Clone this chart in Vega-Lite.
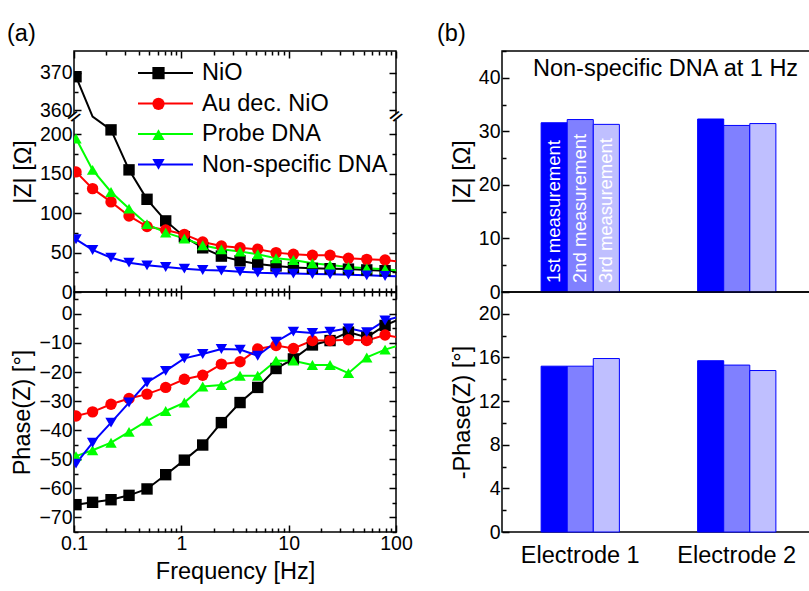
{
  "$schema": "https://vega.github.io/schema/vega-lite/v6.json",
  "autosize": "none",
  "padding": {"left": 74, "top": 51, "right": 735, "bottom": 540},
  "title": {"text": "(b)", "dx": 363, "offset": -24},
  "config": {
    "font": "Liberation Sans",
    "view": {"stroke": "black", "strokeWidth": 1.5},
    "axis": {"domain": false, "grid": false, "labelFont": "Liberation Sans", "labelFontSize": 19.5, "labelColor": "black", "titleFont": "Liberation Sans", "titleFontSize": 23.5, "titleFontWeight": "normal", "titleColor": "black", "tickColor": "black", "tickWidth": 1.5, "labelPadding": 9, "titlePadding": 4, "labelFlush": false, "labelOverlap": false},
    "legend": {"labelFont": "Liberation Sans", "labelFontSize": 23.5, "labelColor": "black", "padding": 0, "rowPadding": 6.5, "labelLimit": 400},
    "title": {"font": "Liberation Sans", "fontSize": 23.5, "fontWeight": "normal", "color": "black", "anchor": "start", "frame": "group", "baseline": "alphabetic"}
  },
  "datasets": {
    "eis": [
      {"f": 0.1044, "s": "NiO", "z": 369, "p": -65.6},
      {"f": 0.149, "s": "NiO", "z": 300, "p": -64.8},
      {"f": 0.2213, "s": "NiO", "z": 205.5, "p": -63.9},
      {"f": 0.3256, "s": "NiO", "z": 154.8, "p": -62.4},
      {"f": 0.479, "s": "NiO", "z": 117.5, "p": -60.2},
      {"f": 0.715, "s": "NiO", "z": 90.1, "p": -55.3},
      {"f": 1.067, "s": "NiO", "z": 70, "p": -50.3},
      {"f": 1.582, "s": "NiO", "z": 56, "p": -45.1},
      {"f": 2.361, "s": "NiO", "z": 45.5, "p": -37.4},
      {"f": 3.524, "s": "NiO", "z": 39.5, "p": -30.5},
      {"f": 5.149, "s": "NiO", "z": 35.5, "p": -25.3},
      {"f": 7.63, "s": "NiO", "z": 33, "p": -18.8},
      {"f": 11.07, "s": "NiO", "z": 31, "p": -15.5},
      {"f": 16.64, "s": "NiO", "z": 30, "p": -10.7},
      {"f": 24.3, "s": "NiO", "z": 29.5, "p": -9.2},
      {"f": 36.05, "s": "NiO", "z": 29, "p": -6.3},
      {"f": 53.4, "s": "NiO", "z": 28, "p": -8.1},
      {"f": 79.1, "s": "NiO", "z": 27, "p": -4.0},
      {"f": 117, "s": "NiO", "z": 26, "p": -1.2},
      {"f": 0.1044, "s": "Au dec. NiO", "z": 152.2, "p": -35.1},
      {"f": 0.149, "s": "Au dec. NiO", "z": 131, "p": -33.7},
      {"f": 0.2213, "s": "Au dec. NiO", "z": 114.2, "p": -31.1},
      {"f": 0.3256, "s": "Au dec. NiO", "z": 96.4, "p": -29.1},
      {"f": 0.479, "s": "Au dec. NiO", "z": 83, "p": -27.6},
      {"f": 0.715, "s": "Au dec. NiO", "z": 78.5, "p": -25.3},
      {"f": 1.067, "s": "Au dec. NiO", "z": 73, "p": -22.5},
      {"f": 1.582, "s": "Au dec. NiO", "z": 63.4, "p": -21.1},
      {"f": 2.361, "s": "Au dec. NiO", "z": 58.4, "p": -17.3},
      {"f": 3.524, "s": "Au dec. NiO", "z": 56.2, "p": -16.5},
      {"f": 5.149, "s": "Au dec. NiO", "z": 54.1, "p": -12.1},
      {"f": 7.63, "s": "Au dec. NiO", "z": 49.9, "p": -10.9},
      {"f": 11.07, "s": "Au dec. NiO", "z": 47.8, "p": -11.9},
      {"f": 16.64, "s": "Au dec. NiO", "z": 46.5, "p": -9.2},
      {"f": 24.3, "s": "Au dec. NiO", "z": 46.5, "p": -9.2},
      {"f": 36.05, "s": "Au dec. NiO", "z": 42.7, "p": -8.9},
      {"f": 53.4, "s": "Au dec. NiO", "z": 41.4, "p": -9.2},
      {"f": 79.1, "s": "Au dec. NiO", "z": 40.6, "p": -7.3},
      {"f": 117, "s": "Au dec. NiO", "z": 38, "p": -8.4},
      {"f": 0.1044, "s": "Probe DNA", "z": 194.5, "p": -48.9},
      {"f": 0.149, "s": "Probe DNA", "z": 154.8, "p": -46.9},
      {"f": 0.2213, "s": "Probe DNA", "z": 126.8, "p": -44.3},
      {"f": 0.3256, "s": "Probe DNA", "z": 105.7, "p": -40.6},
      {"f": 0.479, "s": "Probe DNA", "z": 86, "p": -36.8},
      {"f": 0.715, "s": "Probe DNA", "z": 75.3, "p": -33.4},
      {"f": 1.067, "s": "Probe DNA", "z": 67.7, "p": -30.5},
      {"f": 1.582, "s": "Probe DNA", "z": 59.2, "p": -25.0},
      {"f": 2.361, "s": "Probe DNA", "z": 54.1, "p": -24.5},
      {"f": 3.524, "s": "Probe DNA", "z": 51.2, "p": -21.3},
      {"f": 5.149, "s": "Probe DNA", "z": 47.8, "p": -21.3},
      {"f": 7.63, "s": "Probe DNA", "z": 42.7, "p": -16.1},
      {"f": 11.07, "s": "Probe DNA", "z": 40.6, "p": -16.1},
      {"f": 16.64, "s": "Probe DNA", "z": 36.4, "p": -17.6},
      {"f": 24.3, "s": "Probe DNA", "z": 34.2, "p": -17.6},
      {"f": 36.05, "s": "Probe DNA", "z": 31.7, "p": -20.4},
      {"f": 53.4, "s": "Probe DNA", "z": 30, "p": -15.0},
      {"f": 79.1, "s": "Probe DNA", "z": 28.8, "p": -12.3},
      {"f": 117, "s": "Probe DNA", "z": 26.6, "p": -10.4},
      {"f": 0.1044, "s": "Non-specific DNA", "z": 66.8, "p": -51.5},
      {"f": 0.149, "s": "Non-specific DNA", "z": 53.3, "p": -44.3},
      {"f": 0.2213, "s": "Non-specific DNA", "z": 43.5, "p": -37.4},
      {"f": 0.3256, "s": "Non-specific DNA", "z": 37.2, "p": -30.5},
      {"f": 0.479, "s": "Non-specific DNA", "z": 33.8, "p": -23.6},
      {"f": 0.715, "s": "Non-specific DNA", "z": 31.7, "p": -19.6},
      {"f": 1.067, "s": "Non-specific DNA", "z": 29.6, "p": -15.3},
      {"f": 1.582, "s": "Non-specific DNA", "z": 27.9, "p": -13.8},
      {"f": 2.361, "s": "Non-specific DNA", "z": 27.1, "p": -12.1},
      {"f": 3.524, "s": "Non-specific DNA", "z": 25.8, "p": -12.3},
      {"f": 5.149, "s": "Non-specific DNA", "z": 24.5, "p": -14.4},
      {"f": 7.63, "s": "Non-specific DNA", "z": 23.7, "p": -9.6},
      {"f": 11.07, "s": "Non-specific DNA", "z": 23.3, "p": -6.1},
      {"f": 16.64, "s": "Non-specific DNA", "z": 22.8, "p": -6.6},
      {"f": 24.3, "s": "Non-specific DNA", "z": 22.4, "p": -6.1},
      {"f": 36.05, "s": "Non-specific DNA", "z": 22, "p": -5.0},
      {"f": 53.4, "s": "Non-specific DNA", "z": 21.1, "p": -6.3},
      {"f": 79.1, "s": "Non-specific DNA", "z": 20.3, "p": -2.3},
      {"f": 117, "s": "Non-specific DNA", "z": 19.5, "p": -0.6}
    ],
    "brk": [{"f": 0.1}, {"f": 100}],
    "bars": [
      {"electrode": "Electrode 1", "m": "1st measurement", "z": 31.6, "p": 15.2},
      {"electrode": "Electrode 1", "m": "2nd measurement", "z": 32.2, "p": 15.2},
      {"electrode": "Electrode 1", "m": "3rd measurement", "z": 31.3, "p": 15.9},
      {"electrode": "Electrode 2", "m": "1st measurement", "z": 32.3, "p": 15.7},
      {"electrode": "Electrode 2", "m": "2nd measurement", "z": 31.1, "p": 15.3},
      {"electrode": "Electrode 2", "m": "3rd measurement", "z": 31.45, "p": 14.8}
    ]
  },
  "columns": 2,
  "spacing": {"row": 0, "column": 106},
  "bounds": "flush",
  "resolve": {"scale": {"color": "independent", "shape": "independent", "x": "independent", "y": "independent"}, "legend": {"color": "independent", "shape": "independent"}},
  "concat": [
    {
      "width": 322,
      "height": 241,
      "title": {"text": "(a)", "dx": -67, "offset": 5},
      "resolve": {"scale": {"color": "independent", "shape": "independent"}, "axis": {"x": "independent", "y": "independent"}},
      "layer": [
        {
          "data": {"name": "eis"},
          "mark": {"type": "line", "clip": true, "strokeWidth": 2},
          "encoding": {
            "x": {"field": "f", "type": "quantitative", "scale": {"type": "log", "domain": [0.1, 100], "nice": false},
              "axis": {"orient": "bottom", "values": [0.1,0.2,0.3,0.4,0.5,0.6,0.7,0.8,0.9,1,2,3,4,5,6,7,8,9,10,20,30,40,50,60,70,80,90,100], "labels": false, "title": null,
                "tickSize": {"condition": {"test": "indexof([0.1,1,10,100], datum.value) >= 0", "value": -7}, "value": -4}}},
            "y": {"field": "z", "type": "quantitative", "scale": {"domain": [0, 218, 359, 375.9], "range": [241, 69, 63, 0], "nice": false, "zero": false},
              "axis": {"orient": "left", "title": "|Z| [Ω]", "values": [0,25,50,75,100,125,150,175,200,360,365,370],
                "labelExpr": "indexof([0,50,100,150,200,360,370], datum.value) >= 0 ? datum.label : ''",
                "tickSize": {"condition": {"test": "indexof([0,50,100,150,200,360,370], datum.value) >= 0", "value": -7}, "value": -4}}},
            "color": {"field": "s", "type": "nominal",
              "scale": {"domain": ["NiO", "Au dec. NiO", "Probe DNA", "Non-specific DNA"], "range": ["#000000", "#FF0000", "#00FF00", "#0000FF"]},
              "legend": {"orient": "none", "legendX": 79.5, "legendY": 10, "title": null, "symbolType": "M-2.5,0H2.5", "symbolSize": 484, "symbolStrokeWidth": 2, "labelOffset": 24.5}}
          }
        },
        {
          "data": {"name": "eis"},
          "transform": [{"filter": "datum.z < 218 || datum.z > 359"}],
          "mark": {"type": "point", "filled": true, "clip": true, "size": 130, "opacity": 1},
          "encoding": {
            "x": {"field": "f", "type": "quantitative", "scale": {"type": "log", "domain": [0.1, 100], "nice": false},
              "axis": {"orient": "top", "values": [0.1,0.2,0.3,0.4,0.5,0.6,0.7,0.8,0.9,1,2,3,4,5,6,7,8,9,10,20,30,40,50,60,70,80,90,100], "labels": false, "title": null,
                "tickSize": {"condition": {"test": "indexof([0.1,1,10,100], datum.value) >= 0", "value": -7}, "value": -4}}},
            "y": {"field": "z", "type": "quantitative", "scale": {"domain": [0, 218, 359, 375.9], "range": [241, 69, 63, 0], "nice": false, "zero": false},
              "axis": {"orient": "right", "labels": false, "title": null, "values": [0,25,50,75,100,125,150,175,200,360,365,370],
                "tickSize": {"condition": {"test": "indexof([0,50,100,150,200,360,370], datum.value) >= 0", "value": -7}, "value": -4}}},
            "color": {"field": "s", "type": "nominal",
              "scale": {"domain": ["NiO", "Au dec. NiO", "Probe DNA", "Non-specific DNA"], "range": ["#000000", "#FF0000", "#00FF00", "#0000FF"]},
              "legend": {"orient": "none", "legendX": 78, "legendY": 15.6, "title": null, "symbolSize": 150, "symbolStrokeWidth": 0, "labelExpr": "''", "labelFontSize": 1, "rowPadding": 17.75}},
            "shape": {"field": "s", "type": "nominal",
              "scale": {"domain": ["NiO", "Au dec. NiO", "Probe DNA", "Non-specific DNA"], "range": ["square", "circle", "triangle-up", "triangle-down"]},
              "legend": {"orient": "none", "legendX": 78, "legendY": 15.6, "title": null, "symbolSize": 150, "symbolStrokeWidth": 0, "labelExpr": "''", "labelFontSize": 1, "rowPadding": 17.75}}
          }
        },
        {
          "data": {"name": "brk"},
          "mark": {"type": "rule", "color": "white", "strokeWidth": 4},
          "encoding": {
            "x": {"field": "f", "type": "quantitative", "scale": {"type": "log", "domain": [0.1, 100], "nice": false}, "axis": null},
            "y": {"datum": 222, "type": "quantitative", "axis": null},
            "y2": {"datum": 356}
          }
        },
        {
          "data": {"name": "brk"},
          "mark": {"type": "text", "text": "//", "fontSize": 15, "fontWeight": "bold", "angle": 40, "align": "center", "baseline": "middle", "color": "black"},
          "encoding": {
            "x": {"field": "f", "type": "quantitative", "scale": {"type": "log", "domain": [0.1, 100], "nice": false}, "axis": null},
            "y": {"datum": 300, "type": "quantitative", "axis": null}
          }
        }
      ]
    },
    {
      "width": 313,
      "height": 241,
      "data": {"name": "bars"},
      "title": {"text": "Non-specific DNA at 1 Hz", "dx": 31, "offset": -39},
      "resolve": {"axis": {"y": "independent"}},
      "layer": [
        {
          "mark": {"type": "bar", "stroke": "#0000FF", "strokeWidth": 1},
          "encoding": {
            "x": {"field": "electrode", "type": "nominal", "scale": {"domain": ["Electrode 1", "Electrode 2"], "paddingInner": 0.5, "paddingOuter": 0.25}, "axis": null},
            "xOffset": {"field": "m", "type": "nominal", "scale": {"domain": ["1st measurement", "2nd measurement", "3rd measurement"], "paddingInner": 0, "paddingOuter": 0}},
            "y": {"field": "z", "type": "quantitative", "scale": {"domain": [0, 45], "nice": false},
              "axis": {"orient": "left", "title": "|Z| [Ω]", "values": [0,5,10,15,20,25,30,35,40,45],
                "labelExpr": "datum.value % 10 == 0 ? datum.label : ''",
                "tickSize": {"condition": {"test": "datum.value % 10 == 0", "value": -7}, "value": -4}}},
            "color": {"field": "m", "type": "nominal", "scale": {"domain": ["1st measurement", "2nd measurement", "3rd measurement"], "range": ["#0000FF", "#8080FF", "#BFBFFF"]}, "legend": null}
          }
        },
        {
          "transform": [{"filter": "datum.electrode == 'Electrode 1'"}],
          "mark": {"type": "text", "angle": -90, "align": "left", "baseline": "middle", "dx": 9, "fontSize": 18.5, "color": "white"},
          "encoding": {
            "x": {"field": "electrode", "type": "nominal", "scale": {"domain": ["Electrode 1", "Electrode 2"], "paddingInner": 0.5, "paddingOuter": 0.25}, "axis": null},
            "xOffset": {"field": "m", "type": "nominal", "scale": {"domain": ["1st measurement", "2nd measurement", "3rd measurement"], "paddingInner": 0, "paddingOuter": 0}},
            "y": {"datum": 0, "type": "quantitative", "scale": {"domain": [0, 45], "nice": false}, "axis": null},
            "text": {"field": "m", "type": "nominal"}
          }
        }
      ]
    },
    {
      "width": 322,
      "height": 240,
      "resolve": {"axis": {"x": "independent", "y": "independent"}},
      "layer": [
        {
          "data": {"name": "eis"},
          "mark": {"type": "line", "clip": true, "strokeWidth": 2},
          "encoding": {
            "x": {"field": "f", "type": "quantitative", "scale": {"type": "log", "domain": [0.1, 100], "nice": false},
              "axis": {"orient": "bottom", "title": "Frequency [Hz]", "format": "~g", "values": [0.1,0.2,0.3,0.4,0.5,0.6,0.7,0.8,0.9,1,2,3,4,5,6,7,8,9,10,20,30,40,50,60,70,80,90,100],
                "labelExpr": "indexof([0.1,1,10,100], datum.value) >= 0 ? datum.label : ''",
                "tickSize": {"condition": {"test": "indexof([0.1,1,10,100], datum.value) >= 0", "value": -7}, "value": -4}}},
            "y": {"field": "p", "type": "quantitative", "scale": {"domain": [-75, 7.5], "nice": false, "zero": false},
              "axis": {"orient": "left", "title": "Phase(Z) [°]", "values": [-75,-70,-65,-60,-55,-50,-45,-40,-35,-30,-25,-20,-15,-10,-5,0,5],
                "labelExpr": "datum.value % 10 == 0 ? datum.label : ''",
                "tickSize": {"condition": {"test": "datum.value % 10 == 0", "value": -7}, "value": -4}}},
            "color": {"field": "s", "type": "nominal",
              "scale": {"domain": ["NiO", "Au dec. NiO", "Probe DNA", "Non-specific DNA"], "range": ["#000000", "#FF0000", "#00FF00", "#0000FF"]},
              "legend": null}
          }
        },
        {
          "data": {"name": "eis"},
          "mark": {"type": "point", "filled": true, "clip": true, "size": 130, "opacity": 1},
          "encoding": {
            "x": {"field": "f", "type": "quantitative", "scale": {"type": "log", "domain": [0.1, 100], "nice": false},
              "axis": {"orient": "top", "labels": false, "title": null, "values": [0.1,0.2,0.3,0.4,0.5,0.6,0.7,0.8,0.9,1,2,3,4,5,6,7,8,9,10,20,30,40,50,60,70,80,90,100],
                "tickSize": {"condition": {"test": "indexof([0.1,1,10,100], datum.value) >= 0", "value": -7}, "value": -4}}},
            "y": {"field": "p", "type": "quantitative", "scale": {"domain": [-75, 7.5], "nice": false, "zero": false},
              "axis": {"orient": "right", "labels": false, "title": null, "values": [-75,-70,-65,-60,-55,-50,-45,-40,-35,-30,-25,-20,-15,-10,-5,0,5],
                "tickSize": {"condition": {"test": "datum.value % 10 == 0", "value": -7}, "value": -4}}},
            "color": {"field": "s", "type": "nominal",
              "scale": {"domain": ["NiO", "Au dec. NiO", "Probe DNA", "Non-specific DNA"], "range": ["#000000", "#FF0000", "#00FF00", "#0000FF"]},
              "legend": null},
            "shape": {"field": "s", "type": "nominal",
              "scale": {"domain": ["NiO", "Au dec. NiO", "Probe DNA", "Non-specific DNA"], "range": ["square", "circle", "triangle-up", "triangle-down"]},
              "legend": null}
          }
        }
      ]
    },
    {
      "width": 313,
      "height": 240,
      "data": {"name": "bars"},
      "mark": {"type": "bar", "stroke": "#0000FF", "strokeWidth": 1},
      "encoding": {
        "x": {"field": "electrode", "type": "nominal", "scale": {"domain": ["Electrode 1", "Electrode 2"], "paddingInner": 0.5, "paddingOuter": 0.25},
          "axis": {"orient": "bottom", "title": null, "ticks": false, "labelAngle": 0, "labelFontSize": 23.5, "labelPadding": 11}},
        "xOffset": {"field": "m", "type": "nominal", "scale": {"domain": ["1st measurement", "2nd measurement", "3rd measurement"], "paddingInner": 0, "paddingOuter": 0}},
        "y": {"field": "p", "type": "quantitative", "scale": {"domain": [0, 22], "nice": false},
          "axis": {"orient": "left", "title": "-Phase(Z) [°]", "values": [0,2,4,6,8,10,12,14,16,18,20],
            "labelExpr": "datum.value % 4 == 0 ? datum.label : ''",
            "tickSize": {"condition": {"test": "datum.value % 4 == 0", "value": -7}, "value": -4}}},
        "color": {"field": "m", "type": "nominal", "scale": {"domain": ["1st measurement", "2nd measurement", "3rd measurement"], "range": ["#0000FF", "#8080FF", "#BFBFFF"]}, "legend": null}
      }
    }
  ]
}
